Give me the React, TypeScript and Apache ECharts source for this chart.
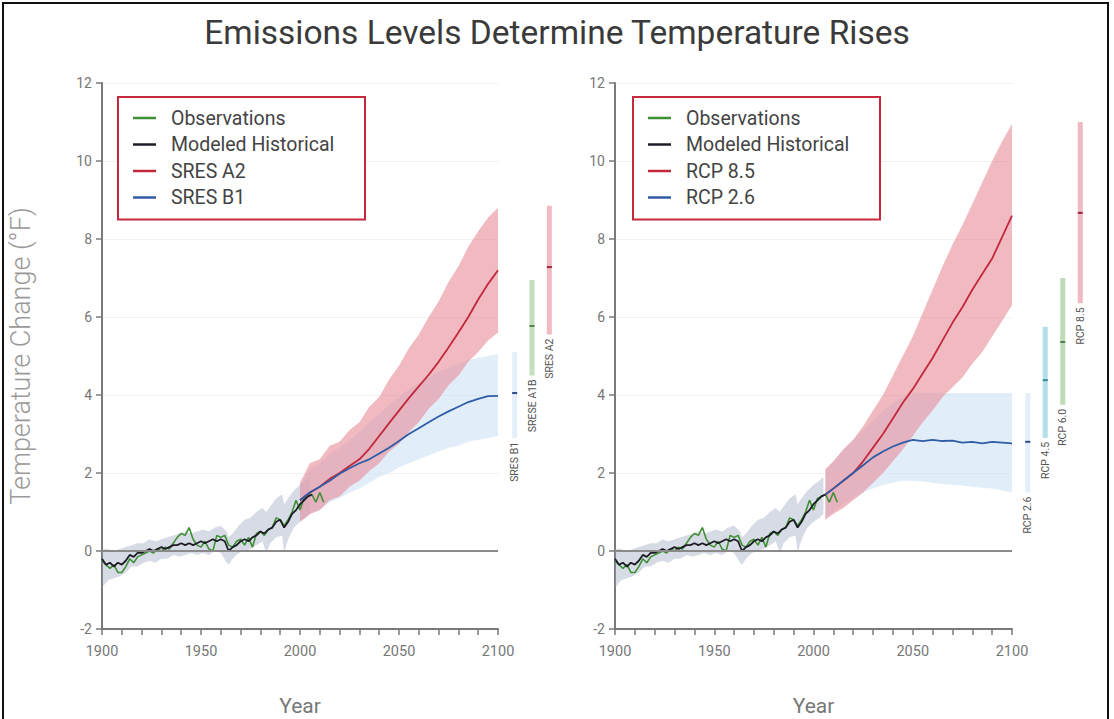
import React, { useEffect, useRef } from "react";
import * as echarts from "echarts";

// ---------- DATA ----------
const TITLE = "Emissions Levels Determine Temperature Rises";
const Y_NAME = "Temperature Change (°F)";
const X_NAME = "Year";

const LEFT_LEGEND = ["Observations", "Modeled Historical", "SRES A2", "SRES B1"];
const RIGHT_LEGEND = ["Observations", "Modeled Historical", "RCP 8.5", "RCP 2.6"];

// Observations (green)
const OBS_YEARS = [1900,1902,1904,1906,1908,1910,1912,1914,1916,1918,1920,1922,1924,1926,1928,1930,1932,1934,1936,1938,1940,1942,1944,1946,1948,1950,1952,1954,1956,1958,1960,1962,1964,1966,1968,1970,1972,1974,1976,1978,1980,1982,1984,1986,1988,1990,1992,1994,1996,1998,2000,2002,2004,2006,2008,2010,2012];
const OBS_VALUES = [-0.25,-0.35,-0.45,-0.35,-0.55,-0.55,-0.4,-0.2,-0.3,-0.15,-0.1,-0.05,0.0,-0.05,0.05,0.0,0.1,0.05,0.2,0.35,0.45,0.4,0.6,0.3,0.15,0.1,0.25,0.05,0.0,0.4,0.35,0.4,0.15,0.1,0.25,0.3,0.15,0.35,0.1,0.45,0.5,0.4,0.55,0.6,0.85,0.8,0.65,0.8,1.0,1.3,1.05,1.35,1.4,1.45,1.25,1.5,1.25];

// Modeled historical (black)
const HIST_YEARS = [1900,1902,1904,1906,1908,1910,1912,1914,1916,1918,1920,1922,1924,1926,1928,1930,1932,1934,1936,1938,1940,1942,1944,1946,1948,1950,1952,1954,1956,1958,1960,1962,1964,1966,1968,1970,1972,1974,1976,1978,1980,1982,1984,1986,1988,1990,1992,1994,1996,1998,2000,2002,2004,2006];
const HIST_VALUES = [-0.2,-0.35,-0.3,-0.4,-0.3,-0.35,-0.25,-0.1,-0.15,-0.05,-0.05,0.0,0.05,0.0,0.05,0.1,0.05,0.1,0.15,0.15,0.2,0.15,0.2,0.15,0.2,0.25,0.2,0.25,0.3,0.25,0.3,0.25,0.0,0.1,0.15,0.25,0.3,0.25,0.35,0.4,0.5,0.45,0.55,0.6,0.75,0.8,0.6,0.75,0.95,1.05,1.2,1.3,1.4,1.45];

// Modeled historical range (grey band)
const HIST_BAND_YEARS = [1900,1903,1906,1909,1912,1915,1918,1921,1924,1927,1930,1933,1936,1939,1942,1945,1948,1951,1954,1957,1960,1963,1964,1966,1969,1972,1975,1978,1981,1983,1985,1988,1991,1992,1994,1997,2000,2003,2005];
const HIST_BAND_LOW = [-0.95,-0.75,-0.7,-0.65,-0.55,-0.4,-0.4,-0.3,-0.25,-0.3,-0.2,-0.2,-0.1,-0.15,-0.1,-0.05,-0.1,-0.05,-0.1,0.0,-0.05,-0.3,-0.35,-0.2,-0.05,0.0,0.05,0.15,0.25,-0.05,0.2,0.35,0.4,-0.05,0.3,0.6,0.75,0.85,0.95];
const HIST_BAND_HIGH = [0.05,0.05,0.0,0.05,0.1,0.15,0.2,0.2,0.3,0.25,0.3,0.35,0.4,0.45,0.5,0.45,0.5,0.55,0.5,0.6,0.65,0.5,0.35,0.45,0.65,0.8,0.85,1.0,1.1,1.0,1.15,1.35,1.45,1.2,1.35,1.55,1.7,1.8,1.9];

// SRES projections (left panel)
const SRES_YEARS = [2000,2005,2010,2015,2020,2025,2030,2035,2040,2045,2050,2055,2060,2065,2070,2075,2080,2085,2090,2095,2100];
const SRES_A2 = [1.3,1.5,1.65,1.85,2.0,2.18,2.35,2.62,2.95,3.28,3.6,3.92,4.22,4.52,4.85,5.22,5.6,6.0,6.45,6.85,7.2];
const SRES_A2_LOW = [0.75,0.95,1.05,1.3,1.4,1.65,1.8,2.05,2.25,2.55,2.75,3.05,3.3,3.65,3.9,4.25,4.5,4.85,5.1,5.4,5.6];
const SRES_A2_HIGH = [1.75,2.25,2.35,2.7,2.8,3.1,3.3,3.7,3.95,4.4,4.75,5.2,5.55,6.0,6.4,6.9,7.3,7.8,8.2,8.55,8.8];
const SRES_B1 = [1.3,1.5,1.65,1.8,1.98,2.12,2.25,2.35,2.5,2.65,2.82,3.0,3.15,3.3,3.45,3.58,3.7,3.82,3.9,3.97,3.98];
const SRES_B1_LOW = [0.8,0.95,1.05,1.25,1.35,1.5,1.6,1.75,1.9,2.0,2.15,2.25,2.35,2.45,2.55,2.65,2.7,2.8,2.85,2.9,2.95];
const SRES_B1_HIGH = [1.7,2.1,2.25,2.5,2.65,2.85,3.05,3.3,3.5,3.75,3.95,4.15,4.3,4.45,4.6,4.7,4.8,4.9,4.95,5.0,5.05];

// RCP projections (right panel)
const RCP_YEARS = [2006,2010,2015,2020,2025,2030,2035,2040,2045,2050,2055,2060,2065,2070,2075,2080,2085,2090,2095,2100];
const RCP85 = [1.45,1.6,1.8,2.0,2.3,2.65,3.0,3.4,3.8,4.15,4.55,4.95,5.4,5.85,6.25,6.7,7.1,7.5,8.05,8.6];
const RCP85_LOW = [0.8,0.95,1.1,1.3,1.5,1.75,2.0,2.3,2.6,2.95,3.3,3.6,3.95,4.2,4.45,4.8,5.1,5.5,5.9,6.3];
const RCP85_HIGH = [2.1,2.3,2.6,2.85,3.2,3.6,4.0,4.5,5.0,5.5,6.1,6.7,7.3,7.85,8.35,8.9,9.45,10.0,10.5,10.95];
const RCP26 = [1.45,1.6,1.8,2.0,2.2,2.4,2.55,2.68,2.78,2.85,2.82,2.85,2.82,2.83,2.78,2.8,2.76,2.8,2.78,2.76];
const RCP26_LOW = [0.85,1.0,1.2,1.35,1.5,1.6,1.7,1.75,1.8,1.8,1.78,1.75,1.72,1.7,1.68,1.65,1.62,1.6,1.55,1.5];
const RCP26_HIGH = [2.05,2.3,2.6,2.85,3.1,3.35,3.6,3.8,3.95,4.05,4.05,4.05,4.05,4.05,4.05,4.05,4.05,4.05,4.05,4.05];

// 2100 ranges (bars at right of each panel)
const SRES_RANGE_NAMES = ["SRES B1", "SRESE A1B", "SRES A2"];
const SRES_RANGE_LOW = [2.9, 4.5, 5.55];
const SRES_RANGE_MED = [4.05, 5.77, 7.28];
const SRES_RANGE_HIGH = [5.1, 6.95, 8.85];

const RCP_RANGE_NAMES = ["RCP 2.6", "RCP 4.5", "RCP 6.0", "RCP 8.5"];
const RCP_RANGE_LOW = [1.5, 2.9, 3.75, 6.35];
const RCP_RANGE_MED = [2.8, 4.38, 5.36, 8.67];
const RCP_RANGE_HIGH = [4.05, 5.75, 7.0, 11.0];

const Y_MIN = -2;
const Y_MAX = 12;
const Y_STEP = 2;
const X_MIN = 1900;
const X_MAX = 2100;
const X_STEP = 50;

// ---------- STYLE ----------
const FONT = "Roboto, sans-serif";
const C_OBS = "#3f8f34";
const C_HIST = "#1c1c26";
const C_RED = "#c3283c";
const C_BLUE = "#2f5ca6";
const BAND_HIST = "rgba(150,160,190,0.38)";
const BAND_RED = "rgba(232,140,152,0.6)";
const BAND_BLUE = "rgba(200,222,244,0.55)";

const SRES_BAR_COLORS = ["#e4eff9", "#c3dfbb", "#f1b9c1"];
const SRES_MED_COLORS = ["#2c4a8c", "#4f7f4c", "#a3263a"];
const RCP_BAR_COLORS = ["#e4eff9", "#b2dfe9", "#bfdab6", "#f1b9c1"];
const RCP_MED_COLORS = ["#2c4a8c", "#2f8a9c", "#4f7f4c", "#a3263a"];

function zip(xs: number[], ys: number[]) {
  return xs.map((x, i) => [x, ys[i]]);
}

function bandSeries(name: string, years: number[], lo: number[], hi: number[], fill: string, axis: number, z: number) {
  const data = years.map((y, i) => [y, lo[i], hi[i]]);
  return {
    type: "custom",
    name,
    xAxisIndex: axis,
    yAxisIndex: axis,
    z,
    silent: true,
    data,
    encode: { x: 0, y: [1, 2] },
    renderItem: (params: any, api: any) => {
      if (params.dataIndex !== 0) return null;
      const upper = data.map((d) => api.coord([d[0], d[2]]));
      const lower = data.map((d) => api.coord([d[0], d[1]])).reverse();
      return {
        type: "polygon",
        shape: { points: upper.concat(lower) },
        style: { fill },
      };
    },
  };
}

function lineSeries(name: string, xs: number[], ys: number[], color: string, axis: number, z: number, width = 1.6, extra: any = {}) {
  return {
    type: "line",
    name,
    xAxisIndex: axis,
    yAxisIndex: axis,
    z,
    data: zip(xs, ys),
    showSymbol: false,
    symbol: "none",
    silent: true,
    lineStyle: { color, width },
    itemStyle: { color },
    ...extra,
  };
}

function rangeSeries(axis: number, names: string[], lo: number[], med: number[], hi: number[], colors: string[], medColors: string[]) {
  const data = names.map((_, i) => [i, lo[i], med[i], hi[i]]);
  return {
    type: "custom",
    name: "ranges" + axis,
    xAxisIndex: axis,
    yAxisIndex: axis,
    silent: true,
    clip: false,
    data,
    encode: { x: 0, y: [1, 2, 3] },
    renderItem: (params: any, api: any) => {
      const i = params.dataIndex;
      const pLo = api.coord([i, api.value(1)]);
      const pMed = api.coord([i, api.value(2)]);
      const pHi = api.coord([i, api.value(3)]);
      const w = 5;
      return {
        type: "group",
        children: [
          {
            type: "rect",
            shape: { x: pLo[0] - w / 2, y: pHi[1], width: w, height: pLo[1] - pHi[1] },
            style: { fill: colors[i] },
          },
          {
            type: "rect",
            shape: { x: pMed[0] - w / 2, y: pMed[1] - 1, width: w, height: 2 },
            style: { fill: medColors[i] },
          },
          {
            type: "text",
            x: pLo[0],
            y: pLo[1] + 4,
            rotation: Math.PI / 2,
            style: {
              text: names[i],
              align: "right",
              verticalAlign: "middle",
              fontSize: 10.5,
              fontFamily: FONT,
              fill: "#555",
            },
          },
        ],
      };
    },
  };
}

function valueXAxis(grid: number) {
  return {
    type: "value",
    gridIndex: grid,
    min: X_MIN,
    max: X_MAX,
    interval: X_STEP,
    name: X_NAME,
    nameLocation: "middle",
    nameGap: 66,
    nameMoveOverlap: false,
    nameTextStyle: { fontSize: 21, color: "#777", fontFamily: FONT },
    axisLine: { show: true, onZero: false, lineStyle: { color: "#7a7a7a", width: 2 } },
    axisTick: { show: true, length: 6, lineStyle: { color: "#7a7a7a", width: 1.5 } },
    minorTick: { show: true, splitNumber: 5, length: 6, lineStyle: { color: "#7a7a7a", width: 1.5 } },
    axisLabel: { fontSize: 14.5, color: "#777", margin: 15, fontFamily: FONT, formatter: (v: number) => String(v) },
    splitLine: { show: false },
  };
}

function valueYAxis(grid: number, named: boolean) {
  return {
    type: "value",
    gridIndex: grid,
    min: Y_MIN,
    max: Y_MAX,
    interval: Y_STEP,
    name: named ? Y_NAME : "",
    nameLocation: "middle",
    nameGap: 68,
    nameRotate: 90,
    nameMoveOverlap: false,
    nameTextStyle: { fontSize: 27, color: "#9a9a9a", fontFamily: FONT, fontWeight: 300 },
    axisLine: { show: true, onZero: false, lineStyle: { color: "#7a7a7a", width: 2 } },
    axisTick: { show: true, length: 6, lineStyle: { color: "#7a7a7a", width: 1.5 } },
    axisLabel: { fontSize: 14, color: "#777", margin: 10, fontFamily: FONT },
    splitLine: { show: true, lineStyle: { color: "#f1f1f1", width: 1 } },
  };
}

function hiddenCatX(grid: number, names: string[]) {
  return { type: "category", gridIndex: grid, data: names, show: false };
}
function hiddenY(grid: number) {
  return { type: "value", gridIndex: grid, min: Y_MIN, max: Y_MAX, show: false, splitLine: { show: false } };
}

function legendBox(left: number, data: string[]) {
  return {
    left,
    top: 97,
    orient: "vertical",
    data,
    icon: "rect",
    itemWidth: 23,
    itemHeight: 2.5,
    itemGap: 6.5,
    padding: [11, 14, 12, 15],
    borderColor: "#c42a3b",
    borderWidth: 2,
    backgroundColor: "#fff",
    selectedMode: false,
    textStyle: { fontSize: 19.5, color: "#444", fontFamily: FONT, lineHeight: 20, padding: [0, 0, 0, 10], width: 180 },
  };
}

export default function App() {
  const ref = useRef<HTMLDivElement>(null);

  useEffect(() => {
    if (!ref.current) return;
    const chart = echarts.init(ref.current, null, { renderer: "svg" });

    const zeroLine = {
      silent: true,
      symbol: "none",
      label: { show: false },
      lineStyle: { color: "#8a8a8a", width: 2, type: "solid" },
      data: [{ yAxis: 0 }],
    };

    const option: any = {
      animation: false,
      backgroundColor: "#fff",
      title: {
        text: TITLE,
        left: "center",
        top: 10,
        textStyle: { fontSize: 33.5, fontWeight: "normal", color: "#3a3a3a", fontFamily: FONT },
      },
      legend: [legendBox(118, LEFT_LEGEND), legendBox(633, RIGHT_LEGEND)],
      grid: [
        { left: 102, top: 83, width: 396, height: 546, containLabel: false, outerBoundsMode: "none" },
        { left: 615, top: 83, width: 397, height: 546, containLabel: false, outerBoundsMode: "none" },
        { left: 506, top: 83, width: 52, height: 546, containLabel: false, outerBoundsMode: "none" },
        { left: 1019, top: 83, width: 70, height: 546, containLabel: false, outerBoundsMode: "none" },
      ],
      xAxis: [valueXAxis(0), valueXAxis(1), hiddenCatX(2, SRES_RANGE_NAMES), hiddenCatX(3, RCP_RANGE_NAMES)],
      yAxis: [valueYAxis(0, true), valueYAxis(1, false), hiddenY(2), hiddenY(3)],
      graphic: [
        {
          type: "rect",
          silent: true,
          shape: { x: 3, y: 3, width: 1105, height: 740 },
          style: { fill: "none", stroke: "#111", lineWidth: 2 },
          z: 100,
        },
      ],
      series: [
        // left panel
        bandSeries("Historical range L", HIST_BAND_YEARS, HIST_BAND_LOW, HIST_BAND_HIGH, BAND_HIST, 0, 1),
        bandSeries("SRES B1 range", SRES_YEARS, SRES_B1_LOW, SRES_B1_HIGH, BAND_BLUE, 0, 1),
        bandSeries("SRES A2 range", SRES_YEARS, SRES_A2_LOW, SRES_A2_HIGH, BAND_RED, 0, 1),
        lineSeries("Observations", OBS_YEARS, OBS_VALUES, C_OBS, 0, 3, 1.6, { markLine: zeroLine }),
        lineSeries("Modeled Historical", HIST_YEARS, HIST_VALUES, C_HIST, 0, 4, 1.8),
        lineSeries("SRES A2", SRES_YEARS, SRES_A2, C_RED, 0, 4, 1.8),
        lineSeries("SRES B1", SRES_YEARS, SRES_B1, C_BLUE, 0, 5, 1.8),
        // right panel
        bandSeries("Historical range R", HIST_BAND_YEARS, HIST_BAND_LOW, HIST_BAND_HIGH, BAND_HIST, 1, 1),
        bandSeries("RCP 2.6 range", RCP_YEARS, RCP26_LOW, RCP26_HIGH, BAND_BLUE, 1, 1),
        bandSeries("RCP 8.5 range", RCP_YEARS, RCP85_LOW, RCP85_HIGH, BAND_RED, 1, 1),
        lineSeries("Observations", OBS_YEARS, OBS_VALUES, C_OBS, 1, 3, 1.6, { markLine: zeroLine }),
        lineSeries("Modeled Historical", HIST_YEARS, HIST_VALUES, C_HIST, 1, 4, 1.8),
        lineSeries("RCP 8.5", RCP_YEARS, RCP85, C_RED, 1, 4, 1.8),
        lineSeries("RCP 2.6", RCP_YEARS, RCP26, C_BLUE, 1, 5, 1.8),
        // 2100 ranges
        rangeSeries(2, SRES_RANGE_NAMES, SRES_RANGE_LOW, SRES_RANGE_MED, SRES_RANGE_HIGH, SRES_BAR_COLORS, SRES_MED_COLORS),
        rangeSeries(3, RCP_RANGE_NAMES, RCP_RANGE_LOW, RCP_RANGE_MED, RCP_RANGE_HIGH, RCP_BAR_COLORS, RCP_MED_COLORS),
      ],
    };

    chart.setOption(option);
    return () => chart.dispose();
  }, []);

  return (
    <div
      ref={ref}
      style={{ position: "fixed", left: 0, top: 0, width: 1114, height: 719, background: "#fff" }}
    />
  );
}
